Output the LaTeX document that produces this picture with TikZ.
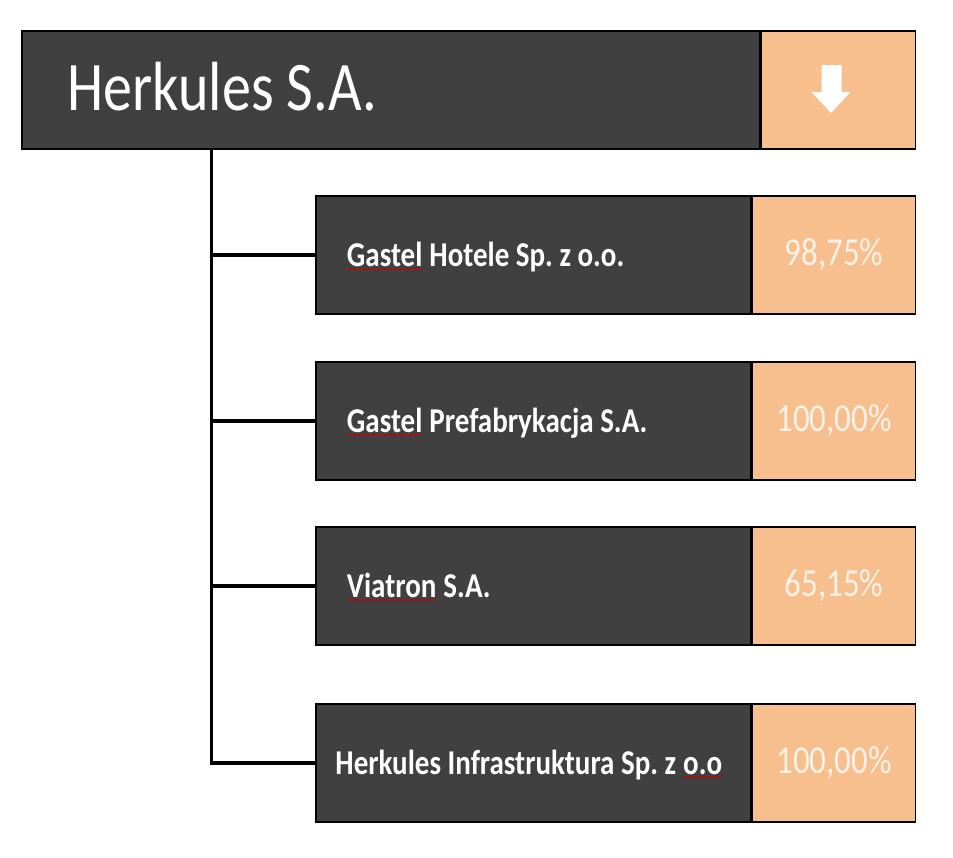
\documentclass[tikz,border=0pt]{standalone}
\usepackage{fontspec}
\setmainfont{Carlito}
\usepackage{graphicx}
\usetikzlibrary{positioning,decorations.pathmorphing}
\frenchspacing

\definecolor{boxgrey}{HTML}{404040}
\definecolor{boxorange}{HTML}{F8BF8E}
\definecolor{pcttext}{HTML}{FFF2E8}

% text in the reference is drawn a little taller than wide
\newcommand\tall[1]{\scalebox{1}[1.2]{#1}}
% spell-check mark under a word
\newcommand\squig[1]{\tikz[baseline=(w.base)]{\node[inner sep=0pt,anchor=base] (w) {#1};
  \draw[squiggle] ([yshift=-2.5pt]w.base west) -- ([yshift=-2.5pt]w.base east);}}

\tikzset{
  namebox/.style={draw=black, line width=1.5pt, fill=boxgrey, minimum height=118pt, inner sep=0pt},
  sharebox/.style={draw=black, line width=1.5pt, fill=boxorange, minimum height=118pt, inner sep=0pt,
    text=pcttext, font=\fontsize{33}{36}\selectfont},
  nametext/.style={text=white, inner sep=0pt, anchor=base west, font=\bfseries\fontsize{29}{32}\selectfont},
  link/.style={line width=3.5pt, black},
  squiggle/.style={red!80!black, line width=0.6pt, decorate,
    decoration={snake, amplitude=0.6pt, segment length=2.4pt}}
}

\begin{document}
\begin{tikzpicture}[x=1pt, y=-1pt]
  \useasboundingbox (0,0) rectangle (953,857);

  % parent
  \node[namebox, minimum width=738pt] (hd) at (391,90) {};
  \node[sharebox, minimum width=154pt, right=0pt of hd] (hs) {};
  \node[text=white, inner sep=0pt, anchor=base west, font=\fontsize{58}{62}\selectfont] (hdt)
    at ([xshift=46pt, yshift=-20pt]hd.west) {\tall{Herkules S.A.}};
  \fill[white, shift={(hs.center)}] (-17,-25) -- (3,-25) -- (3,2) -- (12,2) -- (-7.5,23)
    -- (-27,2) -- (-17,2) -- cycle;

  % subsidiaries
  \node[namebox, minimum width=435pt] (g1) at (533.5,255) {};
  \node[sharebox, minimum width=163pt, right=0pt of g1] (p1) {\tall{98,75\%}};
  \node[nametext] (g1t) at ([xshift=31pt, yshift=-11pt]g1.west) {\tall{\squig{Gastel} Hotele Sp. z o.o.}};

  \node[namebox, minimum width=435pt] (g2) at (533.5,421) {};
  \node[sharebox, minimum width=163pt, right=0pt of g2] (p2) {\tall{100,00\%}};
  \node[nametext] (g2t) at ([xshift=31pt, yshift=-11pt]g2.west) {\tall{\squig{Gastel} Prefabrykacja S.A.}};

  \node[namebox, minimum width=435pt] (g3) at (533.5,586) {};
  \node[sharebox, minimum width=163pt, right=0pt of g3] (p3) {\tall{65,15\%}};
  \node[nametext] (g3t) at ([xshift=31pt, yshift=-11pt]g3.west) {\tall{\squig{Viatron} S.A.}};

  \node[namebox, minimum width=435pt] (g4) at (533.5,763) {};
  \node[sharebox, minimum width=163pt, right=0pt of g4] (p4) {\tall{100,00\%}};
  \node[nametext] (g4t) at ([xshift=20pt, yshift=-11pt]g4.west) {\tall{Herkules Infrastruktura Sp. z \squig{o.o}}};

  % tree lines
  \coordinate (trunk) at ([xshift=190pt]hd.south west);
  \draw[link] (trunk) |- (g4.west);
  \draw[link] (trunk |- g1.west) -- (g1.west);
  \draw[link] (trunk |- g2.west) -- (g2.west);
  \draw[link] (trunk |- g3.west) -- (g3.west);
\end{tikzpicture}
\end{document}
